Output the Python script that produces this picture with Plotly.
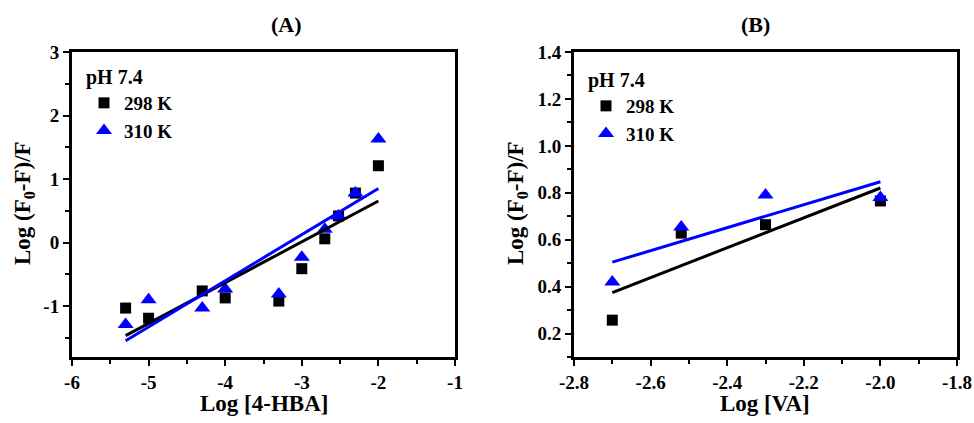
import numpy as np
import plotly.graph_objects as go

# Panel A data (Log [4-HBA])
xA = [-5.3, -5.0, -4.3, -4.0, -3.3, -3.0, -2.7, -2.52, -2.3, -2.0]
yA_298 = [-1.03, -1.19, -0.76, -0.87, -0.92, -0.41, 0.06, 0.42, 0.78, 1.21]
yA_310 = [-1.29, -0.90, -1.03, -0.73, -0.81, -0.23, 0.21, 0.42, 0.78, 1.63]

# Panel B data (Log [VA])
xB = [-2.7, -2.52, -2.3, -2.0]
yB_298 = [0.257, 0.628, 0.664, 0.765]
yB_310 = [0.42, 0.654, 0.79, 0.78]

# Tick labels
xA_ticks = [-6, -5, -4, -3, -2, -1]
xA_labels = ["-6", "-5", "-4", "-3", "-2", "-1"]
yA_ticks = [-1, 0, 1, 2, 3]
yA_labels = ["-1", "0", "1", "2", "3"]
xB_ticks = [-2.8, -2.6, -2.4, -2.2, -2.0, -1.8]
xB_labels = ["-2.8", "-2.6", "-2.4", "-2.2", "-2.0", "-1.8"]
yB_ticks = [0.2, 0.4, 0.6, 0.8, 1.0, 1.2, 1.4]
yB_labels = ["0.2", "0.4", "0.6", "0.8", "1.0", "1.2", "1.4"]

W, H = 974, 423
FONT = "Liberation Serif"
BLACK = "#000000"
BLUE = "#0000FF"


def px(v):
    return v / W


def py(v):
    return 1 - v / H


def fit(x, y):
    k, b = np.polyfit(x, y, 1)
    xs = [min(x), max(x)]
    return xs, [k * v + b for v in xs]


fig = go.Figure()

# Panel A
fig.add_trace(go.Scatter(x=xA, y=yA_298, mode="markers", name="298 K",
                         marker=dict(symbol="square", size=11, color=BLACK),
                         xaxis="x", yaxis="y", legend="legend"))
fig.add_trace(go.Scatter(x=xA, y=yA_310, mode="markers", name="310 K",
                         marker=dict(symbol="triangle-up", size=14, color=BLUE),
                         xaxis="x", yaxis="y", legend="legend"))
fx, fy = fit(xA, yA_298)
fig.add_trace(go.Scatter(x=fx, y=fy, mode="lines", line=dict(color=BLACK, width=3),
                         showlegend=False, xaxis="x", yaxis="y"))
fx, fy = fit(xA, yA_310)
fig.add_trace(go.Scatter(x=fx, y=fy, mode="lines", line=dict(color=BLUE, width=3),
                         showlegend=False, xaxis="x", yaxis="y"))

# Panel B
fig.add_trace(go.Scatter(x=xB, y=yB_298, mode="markers", name="298 K",
                         marker=dict(symbol="square", size=11, color=BLACK),
                         xaxis="x2", yaxis="y2", legend="legend2"))
fig.add_trace(go.Scatter(x=xB, y=yB_310, mode="markers", name="310 K",
                         marker=dict(symbol="triangle-up", size=14, color=BLUE),
                         xaxis="x2", yaxis="y2", legend="legend2"))
fx, fy = fit(xB, yB_298)
fig.add_trace(go.Scatter(x=fx, y=fy, mode="lines", line=dict(color=BLACK, width=3),
                         showlegend=False, xaxis="x2", yaxis="y2"))
fx, fy = fit(xB, yB_310)
fig.add_trace(go.Scatter(x=fx, y=fy, mode="lines", line=dict(color=BLUE, width=3),
                         showlegend=False, xaxis="x2", yaxis="y2"))

tickfont = dict(family=FONT, size=19, color=BLACK)


def axis(domain, rng, tickvals, ticklabels, minor, anchor):
    return dict(domain=domain, range=rng, anchor=anchor, automargin=False,
                tickmode="array", tickvals=tickvals,
                ticktext=["<b>%s</b>" % t for t in ticklabels],
                showline=True, linecolor=BLACK, linewidth=3, mirror=True,
                ticks="outside", ticklen=6, tickwidth=2, tickcolor=BLACK,
                minor=dict(dtick=minor, tick0=0, ticks="outside", ticklen=4,
                           tickwidth=2, tickcolor=BLACK, showgrid=False),
                showgrid=False, zeroline=False, tickfont=tickfont)


yd = [py(357), py(52)]
legfont = dict(family=FONT, size=19, color=BLACK, weight="bold")
legtitlefont = dict(family=FONT, size=20, color=BLACK, weight="bold")

fig.update_layout(
    width=W, height=H,
    margin=dict(l=0, r=0, t=0, b=0, autoexpand=False),
    paper_bgcolor="white", plot_bgcolor="white",
    xaxis=axis([px(72), px(455)], [-6, -1], xA_ticks, xA_labels, 0.5, "y"),
    yaxis=axis(yd, [-1.8, 3], yA_ticks, yA_labels, 0.5, "x"),
    xaxis2=axis([px(574), px(957)], [-2.8, -1.8], xB_ticks, xB_labels, 0.1, "y2"),
    yaxis2=axis(yd, [0.1, 1.4], yB_ticks, yB_labels, 0.1, "x2"),
    legend=dict(x=px(84), y=py(58), xanchor="left", yanchor="top",
                bgcolor="rgba(0,0,0,0)", font=legfont, tracegroupgap=0,
                title=dict(text="<b>pH 7.4</b>", font=legtitlefont)),
    legend2=dict(x=px(586), y=py(61), xanchor="left", yanchor="top",
                 bgcolor="rgba(0,0,0,0)", font=legfont, tracegroupgap=0,
                 title=dict(text="<b>pH 7.4</b>", font=legtitlefont)),
)

titlefont = dict(family=FONT, size=23, color=BLACK)
ann = [
    dict(text="<b>(A)</b>", x=px(286), y=py(25), font=dict(family=FONT, size=22, color=BLACK)),
    dict(text="<b>(B)</b>", x=px(755), y=py(25), font=dict(family=FONT, size=22, color=BLACK)),
    dict(text="<b>Log [4-HBA]</b>", x=px(264), y=py(403), font=titlefont),
    dict(text="<b>Log [VA]</b>", x=px(765), y=py(403), font=titlefont),
    dict(text="<b>Log (F<sub>0</sub>-F)/F</b>", x=px(24), y=py(203), textangle=-90, font=titlefont),
    dict(text="<b>Log (F<sub>0</sub>-F)/F</b>", x=px(517), y=py(203), textangle=-90, font=titlefont),
]
for a in ann:
    fig.add_annotation(xref="paper", yref="paper", showarrow=False,
                       xanchor="center", yanchor="middle", **a)

fig.write_html("out.html",
               config={"displayModeBar": False},
               post_script="document.body.style.margin='0px';"
                           "document.body.style.overflow='hidden';")
